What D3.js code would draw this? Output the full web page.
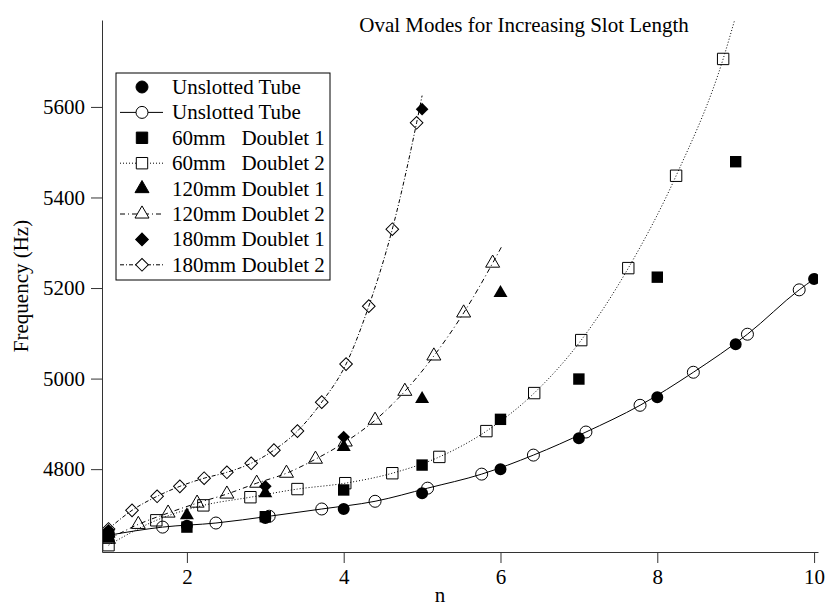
<!DOCTYPE html>
<html>
<head>
<meta charset="utf-8">
<script src="https://cdn.jsdelivr.net/npm/d3@7"></script>
<style>
  body { margin: 0; background: #fff; }
  text { font-family: "Liberation Serif", "Times New Roman", serif; fill: #000; }
</style>
</head>
<body>
<div id="chart"></div>
<script>
// measured data (filled markers)
var modeN = [1, 2, 3, 4, 5, 6, 7, 8, 9, 10];
var unslottedHz = [4660, 4675, 4692, 4712, 4747, 4800, 4868, 4959, 5076, 5220];
var slot60Hz = [4650, 4672, 4695, 4754, 4809, 4910, 4999, 5224, 5479];
var slot120Hz = [4658, 4698, 4747, 4849, 4955, 5189];
var slot180N = [1, 3, 4, 5];
var slot180Hz = [4665, 4762, 4871, 5595];

// fitted curves (open markers), last point is the curve end without a marker
var unslottedFitN = [1, 1.69, 2.37, 3.05, 3.72, 4.4, 5.07, 5.76, 6.42, 7.09, 7.78, 8.46, 9.15, 9.81, 10];
var unslottedFitHz = [4654, 4672, 4681, 4696, 4712, 4729, 4758, 4789, 4831, 4882, 4941, 5014, 5098, 5196, 5220];
var slot60FitN = [1, 1.61, 2.21, 2.81, 3.41, 4.02, 4.62, 5.22, 5.82, 6.43, 7.03, 7.63, 8.24, 8.84, 9.0];
var slot60FitHz = [4632, 4687, 4720, 4738, 4756, 4769, 4791, 4827, 4884, 4968, 5085, 5244, 5448, 5706, 5800];
var slot120FitN = [1, 1.38, 1.76, 2.13, 2.51, 2.89, 3.27, 3.64, 4.02, 4.4, 4.78, 5.15, 5.53, 5.9, 6.01];
var slot120FitHz = [4645, 4678, 4703, 4725, 4745, 4769, 4791, 4822, 4860, 4908, 4972, 5050, 5145, 5255, 5290];
var slot180FitN = [1, 1.3, 1.62, 1.91, 2.22, 2.51, 2.82, 3.11, 3.41, 3.72, 4.03, 4.32, 4.62, 4.93, 5.0];
var slot180FitHz = [4668, 4709, 4740, 4762, 4780, 4793, 4813, 4842, 4884, 4948, 5032, 5160, 5330, 5565, 5625];

var xTicks = [2, 4, 6, 8, 10];
var yTicks = [4800, 5000, 5200, 5400, 5600];

var legendLabels = ["Unslotted Tube", "Unslotted Tube", "60mm   Doublet 1", "60mm   Doublet 2",
  "120mm Doublet 1", "120mm Doublet 2", "180mm Doublet 1", "180mm Doublet 2"];

var svgWidth = 826;
var svgHeight = 608;

var margin = {
    top: 20,
    right: 8,
    bottom: 56,
    left: 102
  };

var width = svgWidth - margin.left - margin.right;
var height = svgHeight - margin.top - margin.bottom;

var svg = d3.select("#chart").append("svg")
    .attr("width", svgWidth)
    .attr("height", svgHeight);

var chartGroup = svg.append("g")
    .attr("transform", `translate(${margin.left}, ${margin.top})`);

var xLinearScale = d3.scaleLinear().domain([0.917, 10.05]).range([0, width]);
var yLinearScale = d3.scaleLinear().domain([4617, 5792]).range([height, 0]);

svg.append("clipPath").attr("id", "plotClip")
  .append("rect").attr("width", width).attr("height", height);

// marker shapes
function markerPath(shape) {
    if (shape === "circle") return d3.symbol(d3.symbolCircle, 113)();
    if (shape === "square") return d3.symbol(d3.symbolSquare, 130)();
    if (shape === "triangle") return d3.symbol(d3.symbolTriangle, 85)();
    return d3.symbol(d3.symbolSquare, 80)();
}
function markerRotate(shape) {
    return shape === "diamond" ? " rotate(45)" : "";
}

var fits = [
    { n: unslottedFitN, hz: unslottedFitHz, shape: "circle", dash: null },
    { n: slot60FitN, hz: slot60FitHz, shape: "square", dash: "1,2" },
    { n: slot120FitN, hz: slot120FitHz, shape: "triangle", dash: "5,3,1,3" },
    { n: slot180FitN, hz: slot180FitHz, shape: "diamond", dash: "4,2,1,2" }
];

var measured = [
    { n: modeN, hz: unslottedHz, shape: "circle" },
    { n: modeN, hz: slot60Hz, shape: "square" },
    { n: modeN, hz: slot120Hz, shape: "triangle" },
    { n: slot180N, hz: slot180Hz, shape: "diamond" }
];

var line = d3.line()
    .x(d => xLinearScale(d[0]))
    .y(d => yLinearScale(d[1]))
    .curve(d3.curveMonotoneX);

var plotGroup = chartGroup.append("g").attr("clip-path", "url(#plotClip)");

fits.forEach(function(f) {
    var pts = f.n.map((v, i) => [v, f.hz[i]]);
    plotGroup.append("path")
        .attr("d", line(pts))
        .attr("fill", "none")
        .attr("stroke", "#000")
        .attr("stroke-width", 1)
        .attr("stroke-dasharray", f.dash);
    plotGroup.selectAll(null)
        .data(pts.slice(0, -1))
        .enter()
        .append("path")
        .attr("d", markerPath(f.shape))
        .attr("transform", d => `translate(${xLinearScale(d[0])},${yLinearScale(d[1])})` + markerRotate(f.shape))
        .attr("fill", "none")
        .attr("stroke", "#000")
        .attr("stroke-width", 1);
});

measured.forEach(function(m) {
    plotGroup.selectAll(null)
        .data(m.hz)
        .enter()
        .append("path")
        .attr("d", markerPath(m.shape))
        .attr("transform", (d, i) => `translate(${xLinearScale(m.n[i])},${yLinearScale(d)})` + markerRotate(m.shape))
        .attr("fill", "#000");
});

// axes
var bottomAxis = d3.axisBottom(xLinearScale).tickValues(xTicks).tickSize(11).tickPadding(6)
    .tickSizeOuter(0).tickFormat(d3.format("d"));
var leftAxis = d3.axisLeft(yLinearScale).tickValues(yTicks).tickSize(11).tickPadding(6)
    .tickSizeOuter(0).tickFormat(d3.format("d"));

var xAxis = chartGroup.append("g")
    .attr("transform", `translate(0, ${height})`)
    .call(bottomAxis);
var yAxis = chartGroup.append("g").call(leftAxis);

[xAxis, yAxis].forEach(function(ax) {
    ax.attr("font-family", null).attr("font-size", null);
    ax.selectAll("path, line").attr("stroke", "#333");
    ax.selectAll("text")
        .style("font-size", "21px")
        .style("font-family", "'Liberation Serif', 'Times New Roman', serif")
        .attr("fill", "#000");
});

svg.append("text")
    .attr("x", 440)
    .attr("y", 602)
    .attr("text-anchor", "middle")
    .attr("font-size", "21px")
    .text("n");

svg.append("text")
    .attr("transform", `translate(28, 286) rotate(-90)`)
    .attr("text-anchor", "middle")
    .attr("font-size", "21px")
    .text("Frequency (Hz)");

svg.append("text")
    .attr("x", 524)
    .attr("y", 32)
    .attr("text-anchor", "middle")
    .attr("font-size", "21px")
    .text("Oval Modes for Increasing Slot Length");

// legend
var legend = svg.append("g").attr("transform", "translate(116, 73)");
legend.append("rect")
    .attr("width", 214)
    .attr("height", 207)
    .attr("fill", "#fff")
    .attr("stroke", "#000")
    .attr("stroke-width", 1);

var legendItems = [
    { shape: "circle", filled: true, dash: null, line: false },
    { shape: "circle", filled: false, dash: null, line: true },
    { shape: "square", filled: true, dash: null, line: false },
    { shape: "square", filled: false, dash: "1,2", line: true },
    { shape: "triangle", filled: true, dash: null, line: false },
    { shape: "triangle", filled: false, dash: "5,3,1,3", line: true },
    { shape: "diamond", filled: true, dash: null, line: false },
    { shape: "diamond", filled: false, dash: "4,2,1,2", line: true }
];

legendItems.forEach(function(item, i) {
    var rowY = 14 + i * 25.4;
    if (item.line) {
        legend.append("line")
            .attr("x1", 4).attr("x2", 47)
            .attr("y1", rowY).attr("y2", rowY)
            .attr("stroke", "#000")
            .attr("stroke-dasharray", item.dash);
    }
    legend.append("path")
        .attr("d", markerPath(item.shape))
        .attr("transform", `translate(26,${rowY})` + markerRotate(item.shape))
        .attr("fill", item.filled ? "#000" : "#fff")
        .attr("stroke", "#000");
    legend.append("text")
        .attr("x", 56)
        .attr("y", rowY)
        .attr("dy", "0.33em")
        .attr("font-size", "21px")
        .style("white-space", "pre")
        .text(legendLabels[i]);
});
</script>
</body>
</html>
